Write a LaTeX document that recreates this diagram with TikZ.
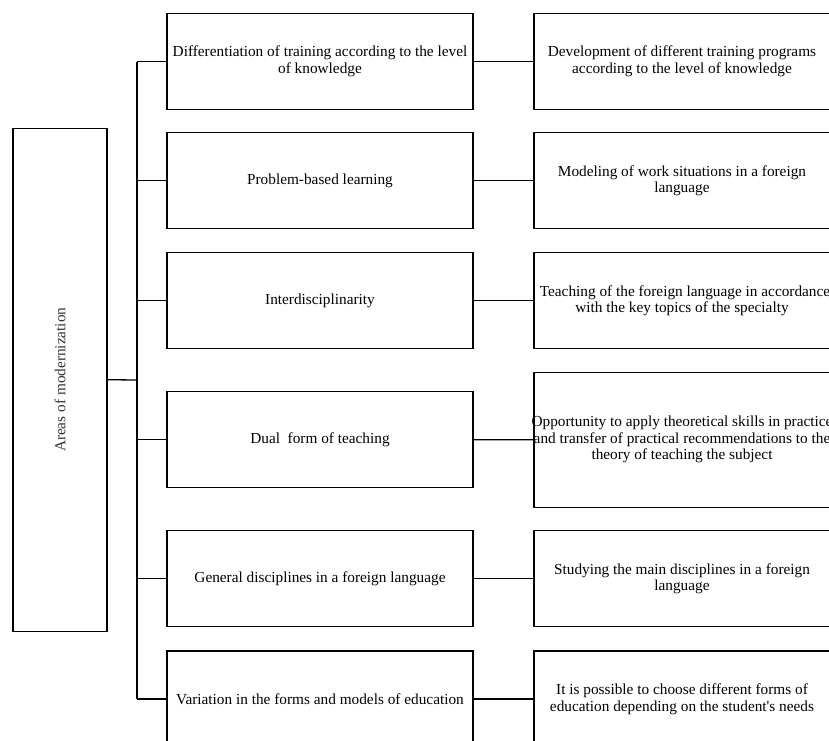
\documentclass[tikz,border=0pt]{standalone}
\usepackage{fontspec}
\setmainfont{Liberation Serif}
\usetikzlibrary{positioning, calc}

\begin{document}
\begin{tikzpicture}[
    x=1pt, y=-1pt,
    rootbox/.style={draw, line width=1.3pt, minimum width=94pt, minimum height=503pt, inner sep=0pt},
    areabox/.style={draw, line width=1.3pt, minimum width=306pt, minimum height=96pt,
        align=center, inner sep=0pt, font=\fontsize{15.3}{16.5}\selectfont},
    resultbox/.style={draw, line width=1.3pt, minimum width=296pt, minimum height=96pt,
        text width=296pt, align=flush center, inner sep=0pt, font=\fontsize{15.3}{16.5}\selectfont},
    link/.style={line width=1.3pt},
]
\useasboundingbox (0,0) rectangle (829,740);
\clip (0,0) rectangle (829,740);

% ===================== ROOT =====================
\node[rootbox] (root) at (60, 379.7) {};
\node[rotate=90, font=\fontsize{15.3}{16.5}\selectfont, text=black!80] (roottext) at (root.center)
    {Areas of modernization};
\coordinate (bus) at (137, 380);

% ===================== AREAS =====================
\node[areabox] (a1) at (320, 61.5)
    {Differentiation of training according to the level\\of knowledge};
\node[areabox] (a2) at (320, 180.8) {Problem-based learning};
\node[areabox] (a3) at (320, 300.8) {Interdisciplinarity};
\node[areabox] (a4) at (320, 439.7) {Dual\ \ form of teaching};
\node[areabox] (a5) at (320, 578.7) {General disciplines in a foreign language};
\node[areabox] (a6) at (320, 699) {Variation in the forms and models of education};

% ===================== RESULTS =====================
\node[resultbox] (r1) at (682, 61.5)
    {Development of different training programs\\according to the level of knowledge};
\node[resultbox] (r2) at (682, 180.8)
    {Modeling of work situations in a foreign\\language};
\node[resultbox] (r3) at (682, 300.8)
    {\makebox[296pt]{\hspace{6pt}Teaching of the foreign language in accordance}\\with the key topics of the specialty};
\node[resultbox, minimum height=135pt] (r4) at (682, 439.8)
    {\makebox[296pt]{Opportunity to apply theoretical skills in practice}\\
     \makebox[296pt]{and transfer of practical recommendations to the}\\
     theory of teaching the subject};
\node[resultbox] (r5) at (682, 578.7)
    {Studying the main disciplines in a\ foreign\\language};
\node[resultbox] (r6) at (682, 699)
    {It is possible to choose different forms of\\education depending on the student\textquotesingle s needs};

% ===================== CONNECTORS =====================
\draw[link] (root.east) -- (bus);
\draw[link] (bus |- a1.west) -- (bus |- a6.west);
\foreach \i in {1,...,6} {
    \draw[link] (bus |- a\i.west) -- (a\i.west);
    \draw[link] (a\i.east) -- (r\i.west);
}

\end{tikzpicture}
\end{document}
